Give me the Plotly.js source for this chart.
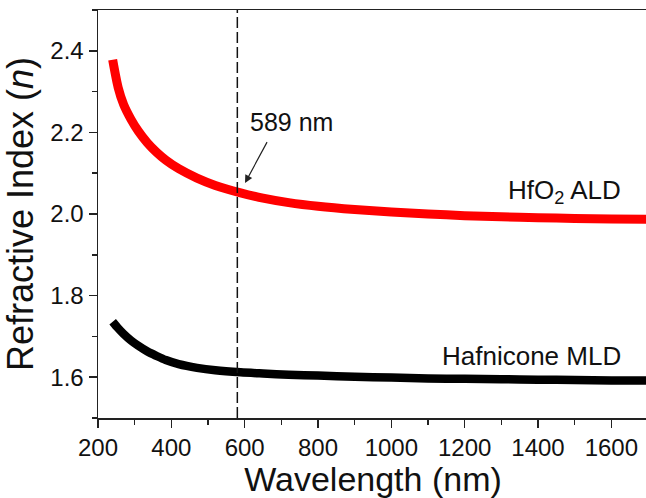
<!DOCTYPE html>
<html>
<head>
<meta charset="utf-8">
<script src="https://cdn.plot.ly/plotly-3.0.1.min.js"></script>
<style>html,body{margin:0;padding:0;overflow:hidden;background:#fff;}#chart{width:652px;height:498px;}</style>
</head>
<body>
<div id="chart"></div>
<script>
// Wavelength samples (nm)
const wavelength = [240, 255, 270, 290, 310, 335, 360, 385, 420, 470, 520, 589, 650, 720, 800, 900, 1000, 1100, 1200, 1300, 1400, 1500, 1600, 1700];
// HfO2 ALD refractive index
const nHfO2 = [2.378, 2.310, 2.268, 2.232, 2.203, 2.174, 2.151, 2.132, 2.111, 2.088, 2.070, 2.052, 2.039, 2.028, 2.019, 2.011, 2.005, 2.000, 1.996, 1.993, 1.991, 1.989, 1.988, 1.987];
// Hafnicone MLD refractive index
const nHafnicone = [1.736, 1.720, 1.706, 1.690, 1.677, 1.663, 1.652, 1.642, 1.632, 1.623, 1.617, 1.612, 1.609, 1.606, 1.604, 1.601, 1.599, 1.597, 1.596, 1.595, 1.594, 1.593, 1.592, 1.592];
const markerWavelength = 580;
const xTicks = [200, 400, 600, 800, 1000, 1200, 1400, 1600];
const yTicks = [1.6, 1.8, 2.0, 2.2, 2.4];

const font = "Liberation Sans, Arial, sans-serif";

const traces = [
  {x: wavelength, y: nHfO2, mode: 'lines', line: {color: '#ff0000', width: 9, shape: 'spline', smoothing: 0.8}, hoverinfo: 'skip'},
  {x: wavelength, y: nHafnicone, mode: 'lines', line: {color: '#000000', width: 8.5, shape: 'spline', smoothing: 0.8}, hoverinfo: 'skip'}
];

const axisCommon = {
  showgrid: false, zeroline: false, showline: true, mirror: true,
  linecolor: '#222', linewidth: 1.5,
  ticks: 'outside', ticklen: 8, tickwidth: 1.5, tickcolor: '#222',
  tickfont: {family: font, size: 24, color: '#111'}
};

const layout = {
  width: 652, height: 498,
  margin: {l: 98, r: 4, t: 10, b: 80},
  paper_bgcolor: '#fff', plot_bgcolor: '#fff',
  showlegend: false,
  font: {family: font, color: '#111'},
  xaxis: Object.assign({}, axisCommon, {
    range: [200, 1700], tickvals: xTicks, ticktext: xTicks.map(String),
    minor: {dtick: 100, ticklen: 5, tickwidth: 1.5, tickcolor: '#222', ticks: 'outside'},
    title: {text: 'Wavelength (nm)', font: {family: font, size: 34, color: '#111'}, standoff: 6}
  }),
  yaxis: Object.assign({}, axisCommon, {
    range: [1.5, 2.5], tickvals: yTicks, ticktext: yTicks.map(v => v.toFixed(1)),
    minor: {dtick: 0.1, ticklen: 5, tickwidth: 1.5, tickcolor: '#222', ticks: 'outside'},
    title: {text: 'Refractive Index (<i>n</i>)', font: {family: font, size: 36, color: '#111'}, standoff: 8}
  }),
  shapes: [
    {type: 'line', xref: 'x', yref: 'paper', x0: markerWavelength, x1: markerWavelength, y0: 0, y1: 1,
     line: {color: '#111', width: 1.5, dash: '11px,4px'}}
  ],
  annotations: [
    {xref: 'x', yref: 'y', x: 609, y: 2.225, xanchor: 'left', yanchor: 'middle', text: '589 nm', showarrow: false,
     font: {family: font, size: 25, color: '#111'}},
    {xref: 'x', yref: 'y', x: 601, y: 2.076, axref: 'x', ayref: 'y', ax: 664, ay: 2.181, text: ' ', showarrow: true,
     arrowhead: 2, arrowsize: 1.3, arrowwidth: 1.2, arrowcolor: '#222', font: {size: 1}},
    {xref: 'x', yref: 'y', x: 1632, y: 2.054, xanchor: 'right', yanchor: 'middle', text: 'HfO<sub>2</sub> ALD', showarrow: false,
     font: {family: font, size: 26, color: '#111'}},
    {xref: 'x', yref: 'y', x: 1632, y: 1.652, xanchor: 'right', yanchor: 'middle', text: 'Hafnicone MLD', showarrow: false,
     font: {family: font, size: 26, color: '#111'}}
  ]
};

Plotly.newPlot('chart', traces, layout, {displayModeBar: false, staticPlot: true});
</script>
</body>
</html>
